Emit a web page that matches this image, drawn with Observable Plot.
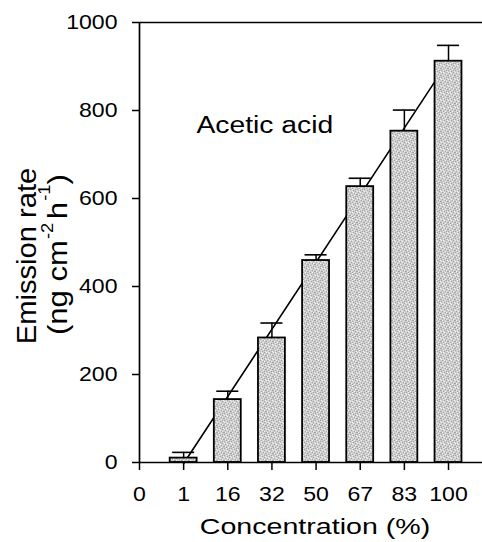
<!DOCTYPE html>
<html><head><meta charset="utf-8">
<script src="https://cdn.jsdelivr.net/npm/d3@7"></script>
<script src="https://cdn.jsdelivr.net/npm/@observablehq/plot@0.6"></script>
<style>
body{margin:0;background:#fff}
#chart svg{display:block}
</style>
</head><body><div id="chart"></div>
<script>
// ---- data ----
const concentrations = ["1", "16", "32", "50", "67", "83", "100"];
const xTickLabels = ["0", "1", "16", "32", "50", "67", "83", "100"];
const emission = [10, 143, 283, 459, 627, 753, 912];
const errorUp = [13, 19, 34, 13, 19, 48, 36];
const yTicks = [0, 200, 400, 600, 800, 1000];
const compoundLabel = "Acetic acid";
const xTitle = "Concentration (%)";
const yTitleLine1 = "Emission rate";

const data = concentrations.map((c, i) => ({
  idx: i + 1, label: c, value: emission[i], err: errorUp[i]
}));

const FONT = "'Liberation Sans', Arial, Helvetica, sans-serif";
const halfBar = 0.305, halfCap = 0.25;

const chart = Plot.plot({
  width: 482, height: 542,
  marginLeft: 139, marginRight: 0, marginTop: 22, marginBottom: 80,
  style: {fontFamily: FONT, fontSize: "21px", color: "black", background: "white"},
  x: {type: "linear", domain: [0, 7.77]},
  y: {domain: [0, 1000]},
  marks: [
    Plot.linearRegressionY(data, {x: "idx", y: "value", ci: 0, stroke: "black", strokeWidth: 1.6}),
    Plot.rectY(data, {x1: d => d.idx - halfBar, x2: d => d.idx + halfBar, y: "value",
      fill: "url(#stipple)", stroke: "black", strokeWidth: 1.8}),
    Plot.ruleX(data, {x: "idx", y1: "value", y2: d => d.value + d.err, stroke: "black", strokeWidth: 1.5}),
    Plot.ruleY(data, {y: d => d.value + d.err, x1: d => d.idx - halfCap, x2: d => d.idx + halfCap,
      stroke: "black", strokeWidth: 1.6}),
    Plot.ruleY([0], {stroke: "black", strokeWidth: 1.5}),
    Plot.ruleY([1000], {stroke: "black", strokeWidth: 1.5}),
    Plot.ruleX([0], {stroke: "black", strokeWidth: 1.7}),
    Plot.axisY({ticks: yTicks, tickFormat: d3.format("d"), tickSize: 7, tickPadding: 15,
      label: null, strokeWidth: 1.5}),
    Plot.axisX({ticks: d3.range(xTickLabels.length), tickFormat: i => xTickLabels[i],
      tickSize: 8, tickPadding: 16, label: null, strokeWidth: 1.5}),
    Plot.text([compoundLabel], {x: 1.29, y: 766, text: d => d, textAnchor: "start",
      lineAnchor: "middle", fontSize: 23})
  ]
});

document.getElementById("chart").appendChild(chart);
const svg = d3.select(chart);

// speckled light-grey fill for bars (irregular so it does not form stripes)
const defs = svg.insert("defs", ":first-child");
const pat = defs.append("pattern").attr("id", "stipple")
  .attr("patternUnits", "userSpaceOnUse").attr("width", 7).attr("height", 7);
pat.append("rect").attr("width", 7).attr("height", 7).attr("fill", "#cdcdcd");
const darkDots = [[0,0],[3,1],[5,2],[1,3],[4,4],[6,5],[2,6],[0,5],[5,0]];
const lightDots = [[2,0],[6,1],[0,2],[3,3],[5,4],[1,5],[4,6],[2,2]];
darkDots.forEach(([x,y]) => pat.append("rect").attr("x", x).attr("y", y)
  .attr("width", 1).attr("height", 1).attr("fill", "#a4a4a4"));
lightDots.forEach(([x,y]) => pat.append("rect").attr("x", x).attr("y", y)
  .attr("width", 1).attr("height", 1).attr("fill", "#f1f1f1"));

// widen the letters like the reference typeface
chart.querySelectorAll("text").forEach(t => {
  const g = t.closest("g[aria-label]");
  const lab = g ? g.getAttribute("aria-label") : "";
  const s = lab.includes("axis") ? 1.1 : 1.23;
  const tr = t.getAttribute("transform");
  t.setAttribute("transform", (tr ? tr + " " : "") + `scale(${s},1)`);
});

// axis titles
svg.append("text")
  .attr("transform", "translate(315,534) scale(1.3,1)")
  .attr("text-anchor", "middle")
  .style("font-family", FONT).style("font-size", "22px")
  .text(xTitle);

svg.append("text")
  .attr("transform", "translate(36,256) rotate(-90) scale(1.08,1)")
  .attr("text-anchor", "middle")
  .style("font-family", FONT).style("font-size", "27px")
  .text(yTitleLine1);

const l2 = svg.append("text")
  .attr("transform", "translate(67,335) rotate(-90) scale(1.15,1)")
  .attr("text-anchor", "start")
  .style("font-family", FONT).style("font-size", "27px");
l2.append("tspan").text("(ng cm");
l2.append("tspan").attr("dy", -14).attr("dx", 1).style("font-size", "16px").text("-2");
l2.append("tspan").attr("dy", 14).attr("dx", 3).text("h");
l2.append("tspan").attr("dy", -17).attr("dx", 1).style("font-size", "16px").text("-1");
l2.append("tspan").attr("dy", 17).text(")");
</script>
</body></html>
